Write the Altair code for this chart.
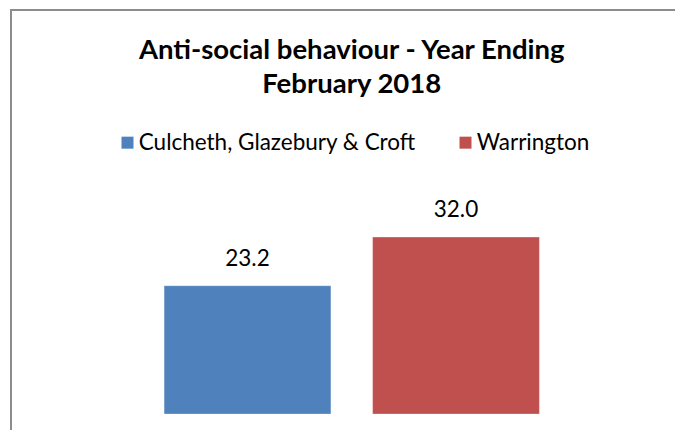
import altair as alt
import pandas as pd

areas = ["Culcheth, Glazebury & Croft", "Warrington"]
values = [23.2, 32.0]
colors = ["#4F81BD", "#C0504D"]
title_lines = ["Anti-social behaviour - Year Ending", "February 2018"]

df = pd.DataFrame({"area": areas, "value": values})

FONT = "Lato"

base = alt.Chart(df).encode(
    x=alt.X("area:N", sort=areas, axis=None,
            scale=alt.Scale(paddingInner=0.2, paddingOuter=0.1)),
    y=alt.Y("value:Q", axis=None, scale=alt.Scale(domain=[0, 35])),
)

bars = base.mark_bar(stroke="white", strokeWidth=1, strokeOpacity=0.3).encode(
    color=alt.Color(
        "area:N",
        sort=areas,
        scale=alt.Scale(domain=areas, range=colors),
        legend=alt.Legend(
            title=None,
            orient="none",
            legendX=-27,
            legendY=-89.2,
            direction="horizontal",
            columns=2,
            symbolType="square",
            symbolSize=144,
            symbolStrokeWidth=0,
            labelFont=FONT,
            labelFontSize=22.5,
            labelColor="#000000",
            labelOffset=0,
            labelLimit=600,
            columnPadding=38,
            padding=0,
        ),
    )
)

labels = base.mark_text(
    font=FONT, fontSize=22.5, color="#000000", baseline="alphabetic", dy=-20
).encode(text=alt.Text("value:Q", format=".1f"))

title = alt.Chart(alt.Data(values=[{}])).mark_text(
    font=FONT, fontSize=27.5, fontWeight="bold", color="#000000",
    align="center", baseline="alphabetic", lineHeight=34,
).encode(
    x=alt.value(208.5), y=alt.value(-161.5), text=alt.value(title_lines)
)

border = alt.Chart(alt.Data(values=[{}]))
left_line = border.mark_rule(color="#8c8c8c", strokeWidth=2).encode(
    x=alt.value(-132.25), y=alt.value(-210.5), y2=alt.value(225)
)
top_line = border.mark_rule(color="#8c8c8c", strokeWidth=2).encode(
    x=alt.value(-133.25), x2=alt.value(545), y=alt.value(-210.5)
)

chart = (
    alt.layer(bars, labels, title, left_line, top_line)
    .properties(
        width=417,
        height=193.5,
        autosize=alt.AutoSizeParams(type="none"),
        padding={"left": 135.25, "top": 212.5, "right": 115, "bottom": 16},
    )
    .configure_view(stroke=None)
)

chart.save("out.html", embed_options={"renderer": "svg", "actions": False})
